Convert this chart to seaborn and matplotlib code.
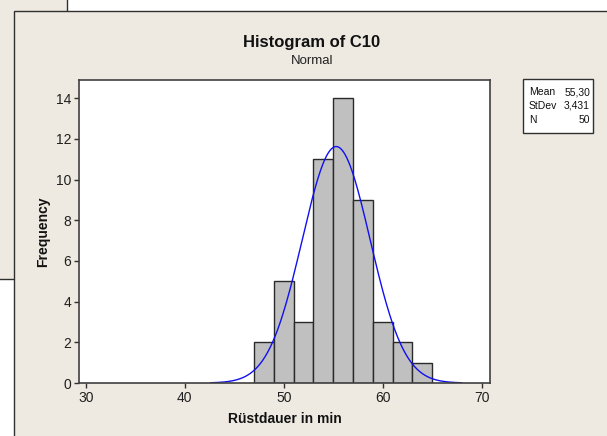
import numpy as np
import pandas as pd
import matplotlib
matplotlib.use("Agg")
import matplotlib.pyplot as plt
from matplotlib.patches import Rectangle
import seaborn as sns

# ---- data ----
bin_edges = [47, 49, 51, 53, 55, 57, 59, 61, 63, 65]
counts = [2, 5, 3, 11, 14, 9, 3, 2, 1]
mean_val = 55.30
stdev_val = 3.431
n_val = 50
x_ticks = [30, 40, 50, 60, 70]
y_ticks = [0, 2, 4, 6, 8, 10, 12, 14]
stat_labels = ["Mean", "StDev", "N"]
stat_values = ["55,30", "3,431", "50"]

sns.set_theme(style="white")
plt.rcParams['font.family'] = ['Liberation Sans', 'DejaVu Sans']

W, H = 607, 436
BG = "#EEEAE1"
fig = plt.figure(figsize=(W / 100, H / 100), dpi=100)
fig.patch.set_facecolor("white")

def px_rect(x0, y0, x1, y1, z, **kw):
    # pixel coordinates from top-left
    r = Rectangle((x0 / W, 1 - y1 / H), (x1 - x0) / W, (y1 - y0) / H,
                  transform=fig.transFigure, zorder=z, **kw)
    fig.patches.append(r)

# back window and front panel
px_rect(-5, -5, 67, 279, -20, facecolor=BG, edgecolor="#303030", linewidth=1.0)
px_rect(14, 11, 615, 445, -10, facecolor=BG, edgecolor="#303030", linewidth=1.0)

ax = fig.add_axes([79 / W, 1 - 383 / H, (490 - 79) / W, (383 - 80) / H])
ax.set_facecolor("white")

centers = [(a + b) / 2 for a, b in zip(bin_edges[:-1], bin_edges[1:])]
df = pd.DataFrame({"x": centers, "w": counts})
sns.histplot(data=df, x="x", weights="w", bins=bin_edges, ax=ax,
             color="#C0C0C0", edgecolor="#2a2a2a", linewidth=1.0, alpha=1.0)

# fitted normal curve scaled to counts
binw = bin_edges[1] - bin_edges[0]
xs = np.linspace(mean_val - 3.7 * stdev_val, mean_val + 3.7 * stdev_val, 300)
ys = n_val * binw / (stdev_val * np.sqrt(2 * np.pi)) * np.exp(-0.5 * ((xs - mean_val) / stdev_val) ** 2)
sns.lineplot(x=xs, y=ys, ax=ax, color="#1010F0", linewidth=1.0)

ax.set_xlim(29.3, 70.85)
ax.set_ylim(0, 14.9)
ax.set_xticks(x_ticks)
ax.set_yticks(y_ticks)
ax.tick_params(axis="both", direction="out", length=3.5, width=1, color="#303030",
               labelsize=10, labelcolor="#202020", pad=2, bottom=True, left=True)
for s in ax.spines.values():
    s.set_color("#404040")
    s.set_linewidth(1.2)

ax.set_xlabel("Rüstdauer in min", fontsize=10, fontweight="bold", color="#111111", labelpad=5)
ax.set_ylabel("Frequency", fontsize=10, fontweight="bold", color="#111111", labelpad=4)

fig.text(312 / W, 1 - 42 / H, "Histogram of C10", ha="center", va="center",
         fontsize=12, fontweight="bold", color="#111111")
fig.text(312 / W, 1 - 61 / H, "Normal", ha="center", va="center",
         fontsize=9.5, color="#222222")

# stats box
px_rect(523, 79, 593, 133, 5, facecolor="white", edgecolor="#303030", linewidth=1.0)
for i, (lab, val) in enumerate(zip(stat_labels, stat_values)):
    yy = 1 - (92 + i * 14) / H
    fig.text(529 / W, yy, lab, ha="left", va="center", fontsize=7.5, color="#111111", zorder=6)
    fig.text(590 / W, yy, val, ha="right", va="center", fontsize=7.5, color="#111111", zorder=6)

fig.savefig("out.png", dpi=100, facecolor=fig.get_facecolor())
